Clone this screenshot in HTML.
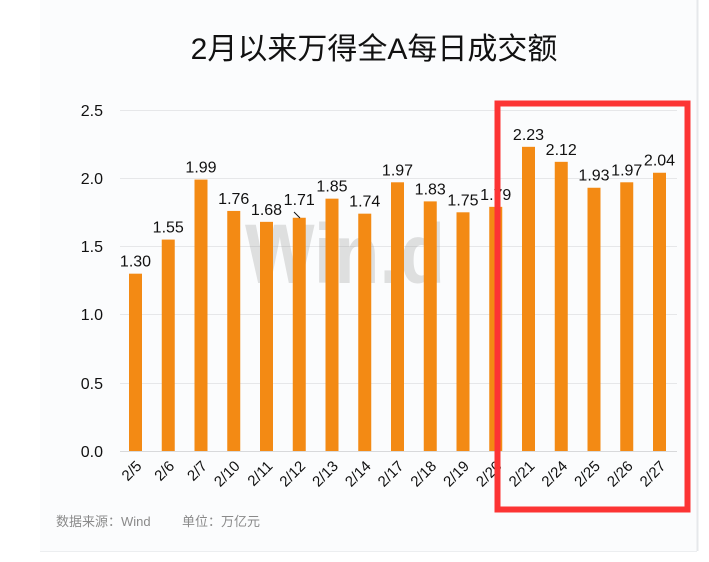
<!DOCTYPE html>
<html><head><meta charset="utf-8"><style>
body{margin:0;background:#fff;}
svg{display:block;font-family:"Liberation Sans","Noto Sans CJK SC",sans-serif;}
</style></head><body>
<svg width="709" height="562" viewBox="0 0 709 562">
<rect x="0" y="0" width="709" height="562" fill="#fff"/>
<rect x="40" y="0" width="657" height="551" fill="#fbfcfd"/>
<line x1="697.5" y1="0" x2="697.5" y2="551" stroke="#e6e8eb" stroke-width="2"/>
<line x1="40" y1="551.5" x2="697" y2="551.5" stroke="#eceef0" stroke-width="1"/>
<text x="374" y="59" font-size="30" text-anchor="middle" fill="#111">2月以来万得全A每日成交额</text>
<g stroke="#e6e7e9" stroke-width="1">
<line x1="120" y1="110.5" x2="677" y2="110.5"/>
<line x1="120" y1="178.5" x2="677" y2="178.5"/>
<line x1="120" y1="246.5" x2="677" y2="246.5"/>
<line x1="120" y1="314.5" x2="677" y2="314.5"/>
<line x1="120" y1="383.5" x2="677" y2="383.5"/>
<line x1="120" y1="451.5" x2="677" y2="451.5" stroke="#d8d9db"/>
</g>
<g font-size="16" fill="#111" text-anchor="end">
<text x="103" y="116">2.5</text>
<text x="103" y="184">2.0</text>
<text x="103" y="252">1.5</text>
<text x="103" y="320">1.0</text>
<text x="103" y="389">0.5</text>
<text x="103" y="457">0.0</text>
</g>
<text x="345" y="283" font-size="84" font-weight="bold" fill="#9a9a9a" fill-opacity="0.3" text-anchor="middle" textLength="200" lengthAdjust="spacingAndGlyphs">Win.d</text>
<g id="bars" fill="#f38a14"></g>
<g id="labels" font-size="16" fill="#111" text-anchor="middle"></g>
<g id="xl" font-size="15" fill="#111"></g>
<line x1="294" y1="212" x2="300" y2="218" stroke="#111" stroke-width="1"/>
<text x="56" y="526" font-size="13" fill="#8a8a8a">数据来源：Wind</text>
<text x="182" y="526" font-size="13" fill="#8a8a8a">单位：万亿元</text>
<rect x="497.5" y="103.5" width="190" height="406" fill="none" stroke="#fc3434" stroke-width="6"/>
<script>
var d=[["2/5",1.30],["2/6",1.55],["2/7",1.99],["2/10",1.76],["2/11",1.68],["2/12",1.71],["2/13",1.85],["2/14",1.74],["2/17",1.97],["2/18",1.83],["2/19",1.75],["2/20",1.79],["2/21",2.23],["2/24",2.12],["2/25",1.93],["2/26",1.97],["2/27",2.04]];
var ns="http://www.w3.org/2000/svg",b=document.getElementById("bars"),l=document.getElementById("labels"),x=document.getElementById("xl");
d.forEach(function(e,i){var c=135.5+i*32.75,h=e[1]*136.4,y=451-h;
var r=document.createElementNS(ns,"rect");r.setAttribute("x",c-6.5);r.setAttribute("y",y);r.setAttribute("width",13);r.setAttribute("height",h);b.appendChild(r);
var t=document.createElementNS(ns,"text");var ly=y-7;if(e[0]=="2/12")ly=y-13;t.setAttribute("x",c);t.setAttribute("y",ly);t.textContent=e[1].toFixed(2);l.appendChild(t);
var u=document.createElementNS(ns,"text");u.setAttribute("text-anchor","end");u.setAttribute("transform","translate("+(c+7)+",467) rotate(-45)");u.textContent=e[0];x.appendChild(u);});
</script>
</svg>
</body></html>
